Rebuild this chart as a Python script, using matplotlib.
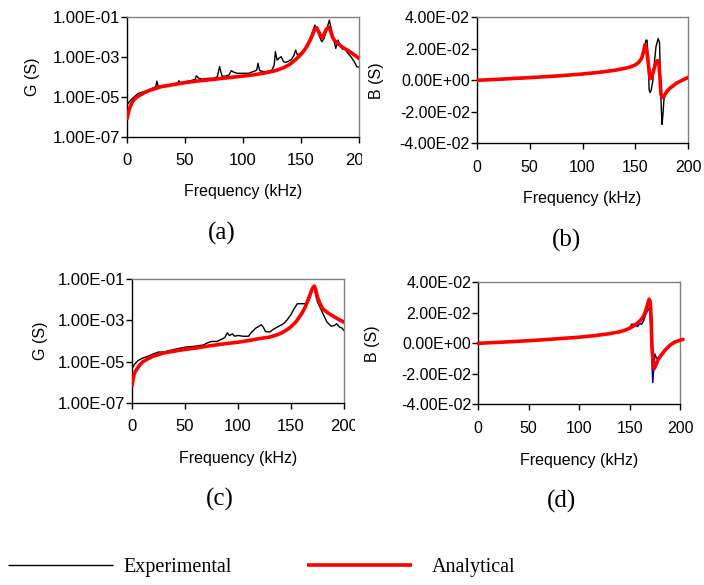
import numpy as np
import matplotlib
matplotlib.use("Agg")
import matplotlib.pyplot as plt
from matplotlib.ticker import FixedLocator, FixedFormatter, NullLocator
from matplotlib.transforms import Bbox

# ---------------- data ----------------
freq_ticks = [0, 50, 100, 150, 200]
freq_ticklabels = ["0", "50", "100", "150", "200"]
g_ticks = [1e-7, 1e-5, 1e-3, 1e-1]
g_ticklabels = ["1.00E-07", "1.00E-05", "1.00E-03", "1.00E-01"]
b_ticks = [-0.04, -0.02, 0.0, 0.02, 0.04]
b_ticklabels = ["-4.00E-02", "-2.00E-02", "0.00E+00", "2.00E-02", "4.00E-02"]

# (a) conductance
fa_exp = [0, 3, 6, 10, 15, 20, 25, 26, 27, 30, 40, 44, 45, 46, 50, 55, 59, 60, 62, 65,
          70, 75, 78, 80, 82, 85, 88, 90, 92, 95, 100, 105, 110, 112, 113, 114.5, 118,
          122, 125, 127, 128, 129.5, 131, 133, 135, 137, 140, 142, 144, 145.5, 147, 150,
          153, 156, 159, 162, 164, 166, 168, 170, 172, 174.5, 176, 178, 180, 182, 184,
          186, 188, 190, 193, 196, 198, 200]
ga_exp = [3.8e-6, 6.3e-6, 9.3e-6, 1.48e-5, 1.78e-5, 2.34e-5, 3.16e-5, 6.0e-5, 3.4e-5,
          3.4e-5, 4.3e-5, 5.0e-5, 6.3e-5, 5.0e-5, 5.6e-5, 6.3e-5, 7.4e-5, 1.12e-4, 8.3e-5,
          7.6e-5, 8.3e-5, 8.3e-5, 1.0e-4, 3.2e-4, 1.07e-4, 1.07e-4, 1.2e-4, 2.0e-4, 1.7e-4,
          1.48e-4, 1.48e-4, 1.48e-4, 1.9e-4, 2.14e-4, 4.7e-4, 2.0e-4, 1.78e-4, 1.86e-4,
          2.14e-4, 3.8e-4, 1.78e-3, 6.8e-4, 8.3e-4, 1.0e-3, 5.6e-4, 5.2e-4, 6.3e-4, 7.4e-4,
          1.2e-3, 2.14e-3, 1.2e-3, 1.58e-3, 2.14e-3, 4.7e-3, 1.2e-2, 3.8e-2, 2.14e-2,
          1.0e-2, 5.6e-3, 8.3e-3, 2.14e-2, 6.8e-2, 2.6e-2, 8.3e-3, 2.6e-3, 6.8e-3, 3.2e-3,
          2.34e-3, 2.6e-3, 1.58e-3, 1.0e-3, 5.6e-4, 3.2e-4, 3.0e-4]
fa_ana = [0.5, 1, 2, 3, 5, 7, 10, 15, 20, 30, 40, 50, 60, 75, 90, 100, 110, 120, 128,
          135, 140, 145, 149, 152, 155, 158, 160, 162, 163.5, 165, 167, 168.5, 170, 172,
          174, 175.5, 177, 179, 182, 186, 190, 195, 200]
ga_ana = [8.3e-7, 1.26e-6, 2.1e-6, 3.2e-6, 5.6e-6, 7.9e-6, 1.07e-5, 1.58e-5, 2.1e-5,
          3.2e-5, 4.0e-5, 5.0e-5, 6.0e-5, 7.4e-5, 9.3e-5, 1.07e-4, 1.26e-4, 1.58e-4,
          2.0e-4, 2.8e-4, 4.0e-4, 6.8e-4, 1.12e-3, 1.78e-3, 3.2e-3, 6.8e-3, 1.26e-2,
          2.4e-2, 2.8e-2, 1.9e-2, 1.17e-2, 8.9e-3, 1.4e-2, 2.4e-2, 2.95e-2, 2.0e-2, 1.0e-2,
          6.3e-3, 4.5e-3, 2.9e-3, 2.14e-3, 1.35e-3, 8.3e-4]

# (b) susceptance
fb_exp = [0, 25, 50, 75, 100, 115, 130, 140, 145, 150, 153, 156, 157, 159, 160, 161, 162,
          163, 164, 165, 166.5, 168, 169.5, 171.5, 172.8, 173.5, 174.5, 175.2, 176, 177,
          178.5, 182, 190, 195, 200]
bb_exp = [0.0, 0.0008, 0.0017, 0.0027, 0.004, 0.005, 0.0063, 0.0076, 0.0084, 0.0098,
          0.0113, 0.014, 0.016, 0.022, 0.0255, 0.0255, 0.012, -0.006, -0.0078, -0.006,
          0.0, 0.012, 0.0215, 0.0265, 0.024, 0.005, -0.0185, -0.028, -0.022, -0.012,
          -0.008, -0.005, -0.0013, 0.0, 0.0015]
fb_ana = [0, 25, 50, 75, 100, 115, 130, 140, 145, 150, 153, 156, 158, 159, 160.5, 162,
          163.8, 165.5, 167.5, 169.5, 171, 172.2, 173.2, 174.2, 176, 178, 180, 183, 189,
          195, 200]
bb_ana = [0.0, 0.0008, 0.0017, 0.0027, 0.004, 0.005, 0.0063, 0.0076, 0.0084, 0.0098,
          0.0113, 0.014, 0.019, 0.0225, 0.020, 0.012, 0.001, 0.002, 0.007, 0.0115, 0.0125,
          0.011, 0.002, -0.009, -0.011, -0.009, -0.0068, -0.0048, -0.0017, 0.0003, 0.0019]

# (c) conductance
fc_exp = [0, 3, 6, 10, 15, 20, 25, 30, 40, 50, 60, 68, 70, 75, 80, 86, 88, 90, 92, 95,
          97, 100, 105, 110, 113, 117, 120, 122, 124, 126, 130, 133, 137, 140, 143, 146,
          150, 153, 156, 160, 165, 167, 170, 172, 173, 175, 178, 181, 184, 188, 191, 193,
          196, 198, 200]
gc_exp = [4.4e-6, 7.8e-6, 1.12e-5, 1.45e-5, 1.8e-5, 2.3e-5, 2.9e-5, 2.9e-5, 3.9e-5,
          5.0e-5, 5.6e-5, 6.5e-5, 7.6e-5, 9.5e-5, 9.5e-5, 1.3e-4, 1.55e-4, 2.5e-4, 1.86e-4,
          2.2e-4, 1.7e-4, 1.86e-4, 1.7e-4, 1.7e-4, 2.7e-4, 4.3e-4, 5.2e-4, 6.2e-4, 4.7e-4,
          2.9e-4, 2.7e-4, 3.6e-4, 4.7e-4, 5.7e-4, 6.9e-4, 1.0e-3, 1.9e-3, 3.7e-3, 6.5e-3,
          6.5e-3, 6.5e-3, 9.5e-3, 3.2e-2, 4.7e-2, 2.0e-2, 7.9e-3, 3.7e-3, 1.74e-3, 8.3e-4,
          5.2e-4, 5.7e-4, 6.9e-4, 4.7e-4, 4.3e-4, 3.2e-4]
fc_ana = [0.5, 1, 2, 3, 5, 7, 10, 15, 20, 30, 40, 50, 60, 75, 90, 100, 110, 120, 130,
          135, 140, 145, 150, 155, 160, 163, 166, 168, 170, 172, 173.5, 175, 177, 180, 185,
          190, 195, 200]
gc_ana = [6.8e-7, 1.17e-6, 2.1e-6, 3.0e-6, 4.4e-6, 6.3e-6, 9.3e-6, 1.35e-5, 1.8e-5,
          2.6e-5, 3.2e-5, 3.9e-5, 4.5e-5, 6.0e-5, 7.6e-5, 8.7e-5, 1.05e-4, 1.3e-4, 1.55e-4,
          1.86e-4, 2.3e-4, 3.2e-4, 4.9e-4, 8.9e-4, 2.1e-3, 4.0e-3, 9.5e-3, 1.78e-2, 3.5e-2,
          4.7e-2, 2.9e-2, 1.38e-2, 7.2e-3, 3.7e-3, 2.3e-3, 1.58e-3, 1.12e-3, 8.3e-4]

# (d) susceptance
fd_exp = [0, 25, 50, 75, 100, 115, 130, 140, 145, 150, 152, 154, 156, 158, 160, 162, 164,
          166, 168, 169, 170, 171, 172, 173, 174, 175, 176.5, 178, 180, 185, 190, 195, 200,
          203]
bd_exp = [0.0, 0.0008, 0.0017, 0.0028, 0.004, 0.005, 0.0063, 0.0075, 0.0085, 0.0098,
          0.0125, 0.0125, 0.012, 0.011, 0.013, 0.0125, 0.015, 0.019, 0.0215, 0.0227, 0.021,
          0.012, -0.009, -0.0258, -0.016, -0.007, -0.0095, -0.010, -0.008, -0.0046,
          -0.0013, 0.0009, 0.002, 0.0026]
fd_ana = [0, 25, 50, 75, 100, 115, 130, 140, 145, 150, 155, 160, 163, 165, 167, 168.5,
          169.5, 170.5, 171.3, 172, 173, 174.5, 176, 178, 180, 185, 190, 195, 200, 203]
bd_ana = [0.0, 0.0008, 0.0017, 0.0028, 0.004, 0.005, 0.0063, 0.0075, 0.0085, 0.0098,
          0.0118, 0.0145, 0.0168, 0.0195, 0.0235, 0.027, 0.0289, 0.027, 0.018, 0.001,
          -0.010, -0.0166, -0.0144, -0.011, -0.009, -0.0046, -0.0013, 0.0009, 0.002, 0.0026]

legend_labels = ["Experimental", "Analytical"]
panel_labels = ["(a)", "(b)", "(c)", "(d)"]
xlabel_text = "Frequency (kHz)"

# ---------------- figure ----------------
W, H = 704, 585
fig = plt.figure(figsize=(W / 100, H / 100), dpi=100)
SANS = ["Liberation Sans", "DejaVu Sans"]
SERIF = ["Liberation Serif", "DejaVu Serif"]
RED = "#ff0000"
RED_LW = 2.6
BLK_LW = 1.0


def add_ax(l, t, r, b):
    return fig.add_axes([l / W, 1 - b / H, (r - l) / W, (b - t) / H])


def style(ax, kind, tick_fs, xl, yl, ylabel):
    ax.set_xlim(0, 200)
    ax.xaxis.set_major_locator(FixedLocator(freq_ticks))
    ax.xaxis.set_major_formatter(FixedFormatter(freq_ticklabels))
    if kind == "G":
        ax.set_yscale("log")
        ax.set_ylim(1e-7, 1e-1)
        ax.yaxis.set_major_locator(FixedLocator(g_ticks))
        ax.yaxis.set_major_formatter(FixedFormatter(g_ticklabels))
    else:
        ax.set_ylim(-0.04, 0.04)
        ax.yaxis.set_major_locator(FixedLocator(b_ticks))
        ax.yaxis.set_major_formatter(FixedFormatter(b_ticklabels))
    ax.yaxis.set_minor_locator(NullLocator())
    ax.xaxis.set_minor_locator(NullLocator())
    for s in ("top", "right"):
        ax.spines[s].set_color("#808080")
        ax.spines[s].set_linewidth(1.0)
    for s in ("left", "bottom"):
        ax.spines[s].set_color("black")
        ax.spines[s].set_linewidth(1.0)
    ax.tick_params(axis="y", direction="out", length=4.5, width=1.0, pad=0.5,
                   labelsize=tick_fs)
    ax.tick_params(axis="x", direction="out", length=4, width=1.0, pad=8,
                   labelsize=tick_fs)
    for lab in ax.get_xticklabels() + ax.get_yticklabels():
        lab.set_fontfamily(SANS)
    ax.set_xlabel(xlabel_text, fontsize=11.5, family=SANS, va="center")
    ax.xaxis.set_label_coords(xl[0] / W, 1 - xl[1] / H, transform=fig.transFigure)
    ax.set_ylabel(ylabel, fontsize=11.5, family=SANS, va="center", ha="center")
    ax.yaxis.set_label_coords(yl[0] / W, 1 - yl[1] / H, transform=fig.transFigure)


ax_a = add_ax(126.7, 16.7, 359, 136.7)
ax_b = add_ax(476.7, 17.3, 688.3, 143.3)
ax_c = add_ax(131.7, 279.3, 344, 402.7)
ax_d = add_ax(478.3, 282.3, 680, 404.3)

(line_exp,) = ax_a.plot(fa_exp, ga_exp, color="black", lw=BLK_LW, zorder=2)
(line_ana,) = ax_a.plot(fa_ana, ga_ana, color=RED, lw=RED_LW, zorder=3,
                        solid_capstyle="round", solid_joinstyle="round")
ax_b.plot(fb_exp, bb_exp, color="black", lw=BLK_LW, zorder=2)
ax_b.plot(fb_ana, bb_ana, color=RED, lw=RED_LW, zorder=3,
          solid_capstyle="round", solid_joinstyle="round")
ax_c.plot(fc_exp, gc_exp, color="black", lw=BLK_LW, zorder=2)
ax_c.plot(fc_ana, gc_ana, color=RED, lw=RED_LW, zorder=3,
          solid_capstyle="round", solid_joinstyle="round")
ax_d.plot(fd_exp, bd_exp, color="#000080", lw=1.1, zorder=2, clip_on=False)
ax_d.plot(fd_ana, bd_ana, color=RED, lw=RED_LW, zorder=3, clip_on=False,
          solid_capstyle="round", solid_joinstyle="round")

style(ax_a, "G", 12, (242.8, 192), (33, 76.7), "G (S)")
style(ax_b, "B", 11.5, (582.5, 199), (377, 80.3), "B (S)")
style(ax_c, "G", 12, (237.8, 458), (40, 341), "G (S)")
style(ax_d, "B", 11.5, (579.2, 460), (372, 343.3), "B (S)")

# panel labels
for txt, (x, y) in zip(panel_labels, [(221.7, 233), (566.7, 240), (220, 499), (561, 501)]):
    fig.text(x / W, 1 - y / H, txt, fontsize=18, family=SERIF, ha="center", va="center")

# legend (two separate entries)
fs_leg = 14.5
fs_px = fs_leg * 100 / 72
leg1 = fig.legend([line_exp], [legend_labels[0]], loc="center left",
                  bbox_to_anchor=(8 / W, 1 - 567 / H), frameon=False, borderpad=0,
                  borderaxespad=0, handlelength=105 / fs_px, handletextpad=10 / fs_px,
                  prop={"family": SERIF, "size": fs_leg})
leg2 = fig.legend([line_ana], [legend_labels[1]], loc="center left",
                  bbox_to_anchor=(307 / W, 1 - 567 / H), frameon=False, borderpad=0,
                  borderaxespad=0, handlelength=105 / fs_px, handletextpad=20 / fs_px,
                  prop={"family": SERIF, "size": fs_leg})
for lg in (leg1, leg2):
    for ln in lg.get_lines():
        ln.set_solid_capstyle("butt")

# the reference shows the last x tick label of the left panels cut off
fig.canvas.draw()
ax_a.get_xticklabels()[-1].set_clip_box(Bbox([[0, 0], [362, H]]))
ax_a.get_xticklabels()[-1].set_clip_on(True)
ax_c.get_xticklabels()[-1].set_clip_box(Bbox([[0, 0], [355, H]]))
ax_c.get_xticklabels()[-1].set_clip_on(True)

fig.savefig("out.png", dpi=100)
